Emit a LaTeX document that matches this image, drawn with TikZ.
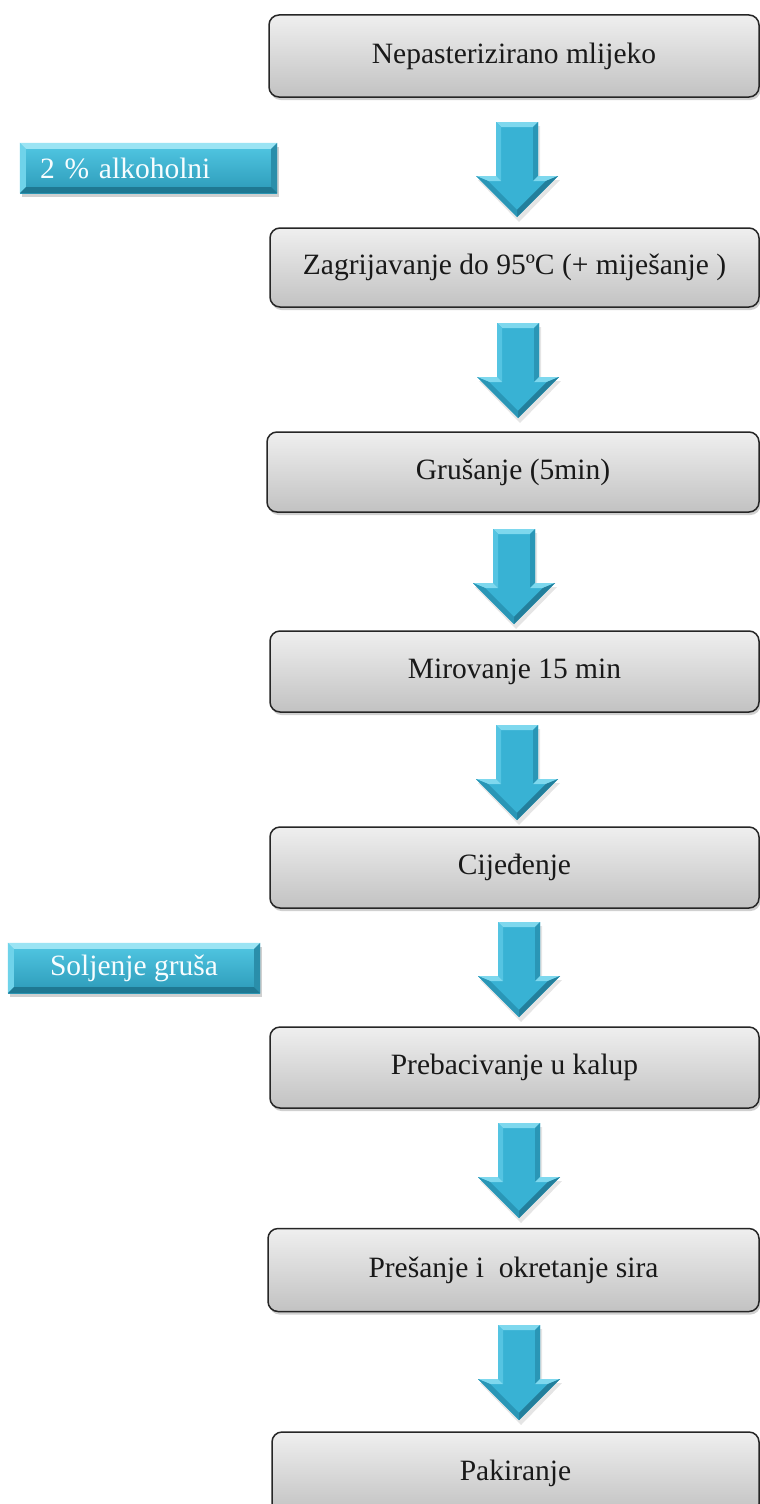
\documentclass[tikz,border=0pt]{standalone}
\usepackage{fontspec}
\setmainfont{Liberation Serif}
\usetikzlibrary{shadows,calc}
\definecolor{boxtop}{HTML}{EFEFEF}
\definecolor{boxbot}{HTML}{C2C2C2}
\definecolor{arrface}{HTML}{38B2D4}
\definecolor{arrlight}{HTML}{7ED8EE}
\definecolor{arrmid}{HTML}{55C4E2}
\definecolor{arrdark}{HTML}{2A96B6}
\definecolor{arrdeep}{HTML}{237F9C}
\definecolor{sidetop}{HTML}{52C8E4}
\definecolor{sidebot}{HTML}{2C9AB8}
\definecolor{bevtop}{HTML}{9BE4F4}
\definecolor{bevleft}{HTML}{6FD3EA}
\definecolor{bevright}{HTML}{2A8EAA}
\definecolor{bevbot}{HTML}{1F7892}
\newcommand\mybevel[1]{%
  \fill[bevtop] (#1.north west) -- (#1.north east) -- ($(#1.north east)+(-6,6)$) -- ($(#1.north west)+(6,6)$) -- cycle;
  \fill[bevleft] (#1.north west) -- ($(#1.north west)+(6,6)$) -- ($(#1.south west)+(6,-6)$) -- (#1.south west) -- cycle;
  \fill[bevright] (#1.north east) -- ($(#1.north east)+(-6,6)$) -- ($(#1.south east)+(-6,-6)$) -- (#1.south east) -- cycle;
  \fill[bevbot] (#1.south west) -- ($(#1.south west)+(6,-6)$) -- ($(#1.south east)+(-6,-6)$) -- (#1.south east) -- cycle;
}
\tikzset{
  stepbox/.style={draw=black!85, line width=1.5pt, rounded corners=10pt,
    top color=boxtop, bottom color=boxbot, minimum width=490pt, minimum height=81pt,
    inner sep=0pt, font=\fontsize{29.5pt}{34pt}\selectfont, text=black!90,
    drop shadow={shadow xshift=1.5pt, shadow yshift=-3pt, opacity=.3, fill=black!60}},
  sidebox/.style={top color=sidetop, bottom color=sidebot, minimum height=50pt,
    inner ysep=0pt, font=\fontsize{29.5pt}{34pt}\selectfont, text=white!97!cyan,
    drop shadow={shadow xshift=2pt, shadow yshift=-4pt, opacity=.3, fill=black!60}},
  blockarrow/.pic={
    \fill[black, opacity=.10] (-19,4) -- (23,4) -- (23,58) -- (43,58) -- (2,100) -- (-39,58) -- (-19,58) -- cycle;
    \fill[arrface] (-21,0) -- (21,0) -- (21,54) -- (41,54) -- (0,95) -- (-41,54) -- (-21,54) -- cycle;
    \fill[arrlight] (-21,0) -- (21,0) -- (16,5) -- (-16,5) -- cycle;
    \fill[arrmid] (-21,0) -- (-16,5) -- (-16,59) -- (-21,54) -- cycle;
    \fill[arrdark] (21,0) -- (16,5) -- (16,59) -- (21,54) -- cycle;
    \fill[arrlight] (21,54) -- (41,54) -- (28.9,59) -- (16,59) -- cycle;
    \fill[arrlight] (-21,54) -- (-41,54) -- (-28.9,59) -- (-16,59) -- cycle;
    \fill[arrdeep] (41,54) -- (0,95) -- (0,87.9) -- (28.9,59) -- cycle;
    \fill[arrdark] (-41,54) -- (0,95) -- (0,87.9) -- (-28.9,59) -- cycle;
  }
}
\begin{document}
\begin{tikzpicture}[x=1pt,y=-1pt]
\useasboundingbox (0,0) rectangle (760,1504);
\fill[white] (0,0) rectangle (760,1504);

\node[stepbox, minimum height=82pt] (b1) at (514,56) {Nepasterizirano mlijeko};
\node[stepbox, minimum height=79pt, minimum width=489pt] (b2) at (514.5,267.5) {Zagrijavanje do 95ºC (+ miješanje )};
\node[stepbox, minimum height=80pt, minimum width=492pt] (b3) at (513,472) {Grušanje (5min)};
\node[stepbox, minimum width=489pt] (b4) at (514.5,671.5) {Mirovanje 15 min};
\node[stepbox, minimum width=489pt] (b5) at (514.5,867.5) {Cijeđenje};
\node[stepbox, minimum width=489pt] (b6) at (514.5,1067.5) {Prebacivanje u kalup};
\node[stepbox, minimum height=83pt, minimum width=491pt] (b7) at (513.5,1270) {Prešanje i \ okretanje sira};
\node[stepbox, minimum height=82pt, minimum width=487pt] (b8) at (515.5,1473) {Pakiranje};

\pic (a1) at (517,122) {blockarrow};
\pic (a2) at (518,323) {blockarrow};
\pic (a3) at (514,529) {blockarrow};
\pic (a4) at (517,725) {blockarrow};
\pic (a5) at (519,922) {blockarrow};
\pic (a6) at (519,1123) {blockarrow};
\pic (a7) at (519,1325) {blockarrow};

\node[sidebox, text width=217pt, align=left, inner xsep=20pt] (s1) at (148.5,168) {2 \% alkoholni};
\mybevel{s1}
\node[sidebox, minimum width=252pt, inner xsep=0pt] (s2) at (134,968) {Soljenje gruša};
\mybevel{s2}
\end{tikzpicture}
\end{document}
